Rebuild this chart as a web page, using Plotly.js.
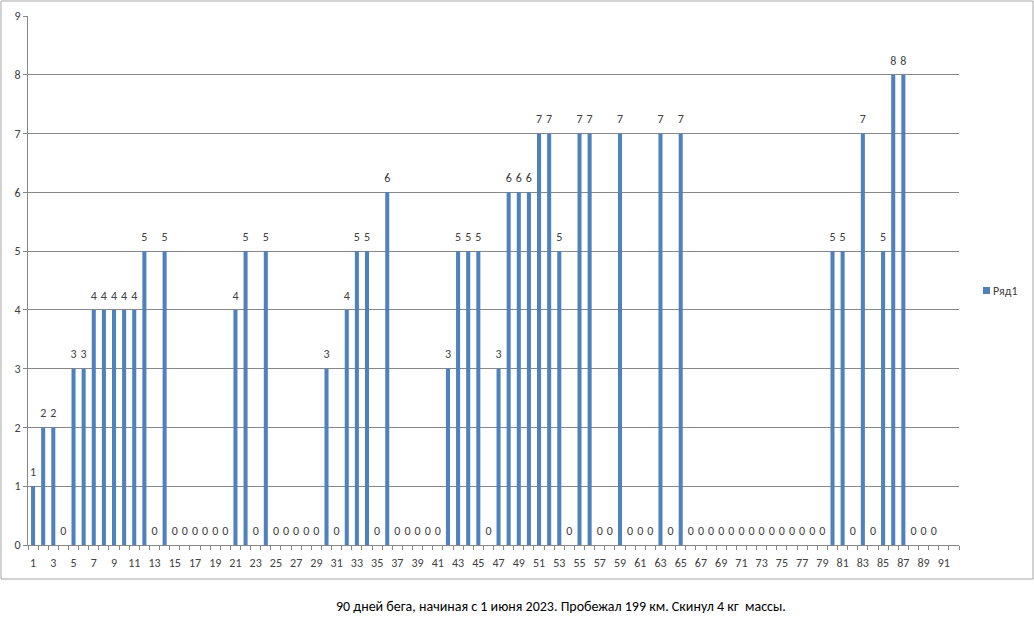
<!DOCTYPE html>
<html>
<head>
<meta charset="utf-8">
<script src="https://cdn.plot.ly/plotly-3.0.1.min.js"></script>
<style>html,body{margin:0;padding:0;background:#fff;}#chart{width:1034px;height:627px;}</style>
</head>
<body>
<div id="chart"></div>
<script>
// Day numbers (categories 1..92; days 91 and 92 have no value)
const days = [];
for (let d = 1; d <= 92; d++) days.push(d);

// Kilometres per day
const km = [
  1, 2, 2, 0, 3, 3, 4, 4, 4, 4,
  4, 5, 0, 5, 0, 0, 0, 0, 0, 0,
  4, 5, 0, 5, 0, 0, 0, 0, 0, 3,
  0, 4, 5, 5, 0, 6, 0, 0, 0, 0,
  0, 3, 5, 5, 5, 0, 3, 6, 6, 6,
  7, 7, 5, 0, 7, 7, 0, 0, 7, 0,
  0, 0, 7, 0, 7, 0, 0, 0, 0, 0,
  0, 0, 0, 0, 0, 0, 0, 0, 0, 5,
  5, 0, 7, 0, 5, 8, 8, 0, 0, 0,
  null, null
];

const xTickLabels = days.filter(d => d % 2 === 1);
const yTicks = [0, 1, 2, 3, 4, 5, 6, 7, 8, 9];

const seriesName = "Ряд1";
const caption = "90 дней бега, начиная с 1 июня 2023. Пробежал 199 км. Скинул 4 кг&nbsp;&nbsp;массы.";

const font = "Calibri, Carlito, 'Liberation Sans', Arial, sans-serif";
const grid = "#878787";
const barColor = "#4f81bd";
const textColor = "#404040";

const bars = {
  type: "bar",
  x: days,
  y: km,
  name: seriesName,
  width: 0.4,
  marker: {color: barColor, line: {width: 0}},
  showlegend: false,
  hoverinfo: "x+y"
};

const lblX = [], lblY = [], lblT = [];
days.forEach((d, i) => { if (km[i] !== null) { lblX.push(d); lblY.push(km[i]); lblT.push(String(km[i])); } });

const labels = {
  type: "scatter",
  mode: "markers+text",
  x: lblX,
  y: lblY,
  text: lblT,
  textposition: "top center",
  marker: {size: 10, opacity: 0},
  textfont: {family: font, size: 12, color: textColor},
  showlegend: false,
  hoverinfo: "skip",
  cliponaxis: false
};

// pixel -> paper helpers (plot area: x 28..959, y 16..545)
const px = p => (p - 28) / 931;
const py = p => (545 - p) / 529;

const layout = {
  width: 1034,
  height: 627,
  margin: {l: 28, r: 75, t: 16, b: 82, autoexpand: false},
  paper_bgcolor: "#ffffff",
  plot_bgcolor: "#ffffff",
  font: {family: font, size: 12, color: textColor},
  showlegend: false,
  xaxis: {
    type: "linear",
    range: [0.5, 92.5],
    tickmode: "array",
    tickvals: xTickLabels,
    ticktext: xTickLabels.map(String),
    ticks: "",
    ticklabelstandoff: 7,
    showgrid: false,
    zeroline: false,
    showline: true,
    linecolor: grid,
    linewidth: 1,
    tickfont: {family: font, size: 12, color: textColor},
    minor: {tick0: 0.5, dtick: 1, ticks: "outside", ticklen: 4, tickcolor: grid, showgrid: false},
    fixedrange: true
  },
  yaxis: {
    range: [0, 9],
    tickmode: "array",
    tickvals: yTicks,
    ticktext: yTicks.map(String),
    ticks: "outside",
    ticklen: 4,
    tickcolor: grid,
    showgrid: true,
    gridcolor: grid,
    gridwidth: 1,
    zeroline: false,
    showline: true,
    linecolor: grid,
    linewidth: 1,
    tickfont: {family: font, size: 12, color: textColor},
    fixedrange: true
  },
  shapes: [
    {
      type: "rect", xref: "paper", yref: "paper",
      x0: px(1), x1: px(1033), y0: py(579), y1: py(1),
      line: {color: "#a6a6a6", width: 1}, fillcolor: "rgba(0,0,0,0)", layer: "below"
    },
    {
      type: "rect", xref: "paper", yref: "paper",
      x0: px(983), x1: px(990), y0: py(294), y1: py(287),
      line: {width: 0}, fillcolor: barColor
    }
  ],
  annotations: [
    {
      xref: "paper", yref: "paper",
      x: px(991), y: py(290.5),
      xanchor: "left", yanchor: "middle",
      text: seriesName,
      showarrow: false,
      font: {family: font, size: 12, color: textColor}
    },
    {
      xref: "paper", yref: "paper",
      x: px(561), y: py(606),
      xanchor: "center", yanchor: "middle",
      text: caption,
      showarrow: false,
      font: {family: font, size: 14, color: "#000000"}
    }
  ]
};

Plotly.newPlot("chart", [bars, labels], layout, {displayModeBar: false, staticPlot: true});
</script>
</body>
</html>
